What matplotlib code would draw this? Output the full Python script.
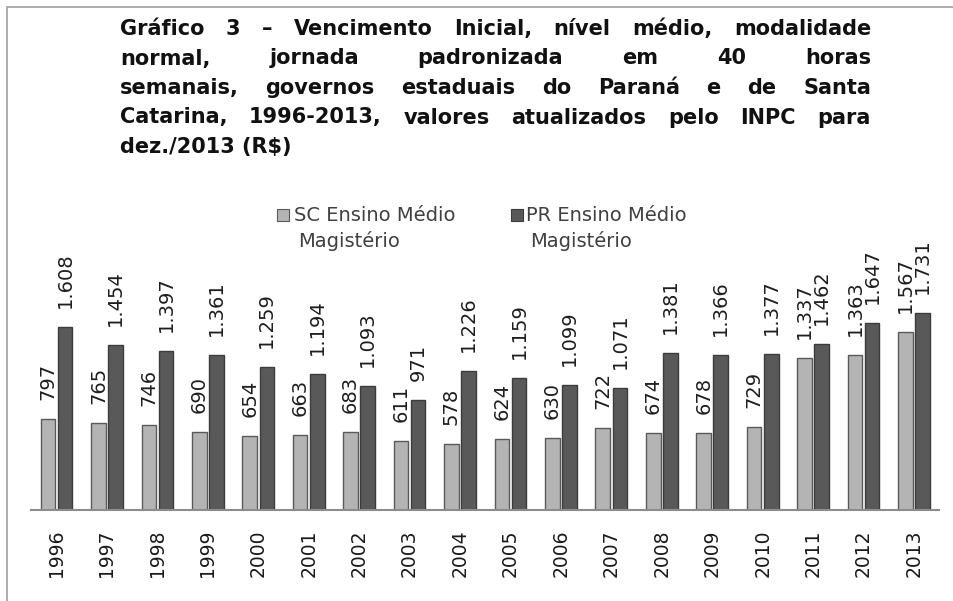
import numpy as np
import matplotlib
matplotlib.use("Agg")
import matplotlib.pyplot as plt
from matplotlib.patches import Rectangle

W, H = 954, 601

years = ["1996", "1997", "1998", "1999", "2000", "2001", "2002", "2003", "2004",
         "2005", "2006", "2007", "2008", "2009", "2010", "2011", "2012", "2013"]
sc_values = [797, 765, 746, 690, 654, 663, 683, 611, 578,
             624, 630, 722, 674, 678, 729, 1337, 1363, 1567]
pr_values = [1608, 1454, 1397, 1361, 1259, 1194, 1093, 971, 1226,
             1159, 1099, 1071, 1381, 1366, 1377, 1462, 1647, 1731]
series_names = ["SC Ensino Médio\nMagistério", "PR Ensino Médio\nMagistério"]

title_lines = [
    "Gráfico 3 – Vencimento Inicial, nível médio, modalidade",
    "normal, jornada padronizada em 40 horas",
    "semanais, governos estaduais do Paraná e de Santa",
    "Catarina, 1996-2013, valores atualizados pelo INPC para",
    "dez./2013 (R$)",
]

light = "#b4b4b4"
dark = "#595959"
plt.rcParams['font.family'] = ['DejaVu Sans']


def fx(px):
    return px / W


def fy(py):
    return 1 - py / H


def fmt(v):
    # thousands separator as a dot, like the original
    return f"{v:,}".replace(",", ".")


fig = plt.figure(figsize=(W / 100, H / 100), dpi=100)

# frame line on the left and top
fig.patches.append(Rectangle((fx(7), -0.2), 1.5, fy(7) + 0.2, transform=fig.transFigure,
                             fill=False, edgecolor="#a0a0a0", linewidth=1.2))

# justified bold title
renderer = fig.canvas.get_renderer()
left, right = 120, 871
tsize = 15
for i, line in enumerate(title_lines):
    base = 35 + 29.5 * i
    words = line.split(" ")
    if i == len(title_lines) - 1:
        fig.text(fx(left), fy(base), line, fontsize=tsize, fontweight="bold",
                 va="baseline", ha="left", color="#111111")
        continue
    texts = [fig.text(0, fy(base), w, fontsize=tsize, fontweight="bold",
                      va="baseline", ha="left", color="#111111") for w in words]
    widths = [t.get_window_extent(renderer).width for t in texts]
    gap = (right - left - sum(widths)) / (len(words) - 1)
    x = left
    for t, wd in zip(texts, widths):
        t.set_x(fx(x))
        x += wd + gap

# plot area
ax = fig.add_axes([fx(31.3), fy(510), fx(907.9), 227.2 / H])
x = np.arange(len(years))
bw = 0.29
off = 0.17
b1 = ax.bar(x - off, sc_values, bw, color=light, edgecolor="#5a5a5a", linewidth=1)
b2 = ax.bar(x + off, pr_values, bw, color=dark, edgecolor="#3c3c3c", linewidth=1)

for bars, vals in ((b1, sc_values), (b2, pr_values)):
    for rect, v in zip(bars, vals):
        ax.annotate(fmt(v), (rect.get_x() + rect.get_width() / 2, v),
                    xytext=(0, 19), textcoords="offset pixels",
                    rotation=90, ha="center", va="bottom",
                    fontsize=14, color="#1e1e1e", annotation_clip=False)

ax.set_xlim(-0.5, len(years) - 0.5)
ax.set_ylim(0, 2000)
ax.set_xticks(x)
ax.set_xticklabels(years, rotation=90, fontsize=13.5, color="#1a1a1a")
ax.tick_params(axis="x", length=0, pad=14)
ax.set_yticks([])
for s in ("top", "right", "left"):
    ax.spines[s].set_visible(False)
ax.spines["bottom"].set_color("#8c8c8c")
ax.spines["bottom"].set_linewidth(1.5)
ax.patch.set_alpha(0)

# legend drawn by hand so the square sits on the first line
legend_items = [(277, 294, light, "#5a5a5a"), (511, 526, dark, "#3c3c3c")]
for (sq_x, tx, fc, ec), name in zip(legend_items, series_names):
    fig.patches.append(Rectangle((fx(sq_x), fy(221)), fx(12), 12 / H,
                                 transform=fig.transFigure, facecolor=fc,
                                 edgecolor=ec, linewidth=0.8))
    first, second = name.split("\n")
    fig.text(fx(tx), fy(221), first, fontsize=14, color="#404040",
             va="baseline", ha="left")
    fig.text(fx(tx + 4), fy(247), second, fontsize=14, color="#404040",
             va="baseline", ha="left")

fig.savefig("out.png", dpi=100)
